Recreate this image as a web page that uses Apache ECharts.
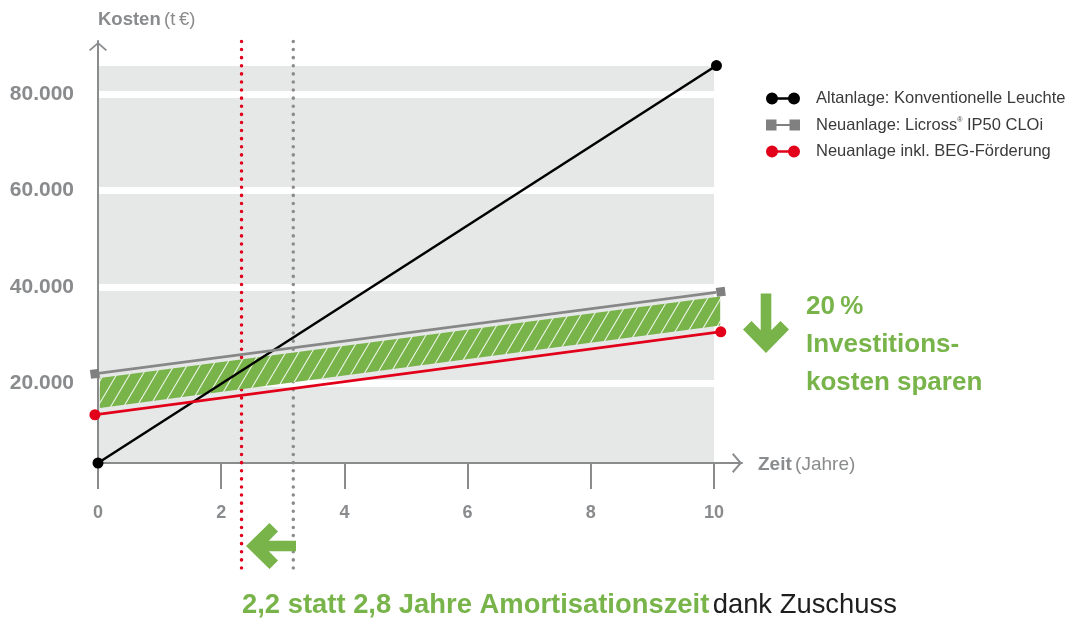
<!DOCTYPE html>
<html>
<head>
<meta charset="utf-8">
<script src="https://cdn.jsdelivr.net/npm/echarts@6/dist/echarts.min.js"></script>
<style>
html,body{margin:0;padding:0;background:#fff;}
#c{width:1071px;height:619px;}
</style>
</head>
<body>
<div id="c"></div>
<script>
// ---- data ----
const xTicks = [0, 2, 4, 6, 8, 10];
const yTicks = [20000, 40000, 60000, 80000];
const altX = [0, 10.04];
const altY = [3500, 85900];          // Altanlage: Konventionelle Leuchte
const neuX = [-0.05, 10.11];
const neuY = [22000, 39000];         // Neuanlage: Licross IP50 CLOi
const begX = [-0.05, 10.11];
const begY = [13500, 30700];         // Neuanlage inkl. BEG-Förderung
const bandX = [0.03, 10.1];
const bandTop = [21100, 38000];
const bandBottom = [14900, 32000];
const paybackBEG = 2.33;             // red dotted
const paybackNeu = 3.17;             // grey dotted
const seriesNames = ['Altanlage: Konventionelle Leuchte', 'Neuanlage: Licross® IP50 CLOi', 'Neuanlage inkl. BEG-Förderung'];

const FONT = "'Liberation Sans', Arial, sans-serif";
const GREY = '#8a8b8d';
const GREEN = '#78b44a';
const RED = '#e2001a';

function pts(xs, ys) { return xs.map((x, i) => [x, ys[i]]); }
function fmt(v) { return String(v).replace(/\B(?=(\d{3})+(?!\d))/g, '.'); }

// hatch pattern
const pc = document.createElement('canvas');
pc.width = 13; pc.height = 22;
const g = pc.getContext('2d');
g.fillStyle = GREEN; g.fillRect(0, 0, 13, 22);
g.strokeStyle = 'rgba(255,255,255,0.9)'; g.lineWidth = 1.1;
[-13, 0, 13].forEach(o => { g.beginPath(); g.moveTo(o, 22); g.lineTo(o + 13, 0); g.stroke(); });

const chev = 'path://M0 8.6 L10 0 L20 8.6 L18.6 10 L10 2.6 L1.4 10 Z';
const dumbCircle = 'path://M0 6 A6 6 0 1 1 12 6 A6 6 0 1 1 0 6 Z M22 6 A6 6 0 1 1 34 6 A6 6 0 1 1 22 6 Z M6 4.8 L28 4.8 L28 7.2 L6 7.2 Z';
const dumbSquare = 'path://M0 0.5 L10.5 0.5 L10.5 11.5 L0 11.5 Z M23.5 0.5 L34 0.5 L34 11.5 L23.5 11.5 Z M10 4.9 L24 4.9 L24 7.1 L10 7.1 Z';

const chart = echarts.init(document.getElementById('c'));
const option = {
  animation: false,
  backgroundColor: '#fff',
  grid: [
    { left: 98, right: 357, top: 66, bottom: 156, show: true, backgroundColor: '#e6e7e7', borderWidth: 0 },
    { left: 98, right: 329, top: 41, bottom: 156 },
    { left: 98, right: 357, top: 40, bottom: 51 }
  ],
  xAxis: [
    { gridIndex: 0, type: 'value', min: 0, max: 10, interval: 2,
      axisLine: { show: false },
      axisTick: { show: true, length: 26, lineStyle: { color: GREY, width: 2 } },
      axisLabel: { margin: 41, color: GREY, fontSize: 18, fontWeight: 'bold', fontFamily: FONT },
      splitLine: { show: false } },
    { gridIndex: 1, type: 'value', min: 0, max: 1,
      axisLine: { show: true, onZero: false, symbol: ['none', chev], symbolSize: [20, 10], symbolOffset: [0, -5],
        lineStyle: { color: GREY, width: 2 } },
      axisTick: { show: false }, axisLabel: { show: false }, splitLine: { show: false } },
    { gridIndex: 2, type: 'value', min: 0, max: 10, show: false }
  ],
  yAxis: [
    { gridIndex: 0, type: 'value', min: 3500, max: 85800,
      axisLine: { show: false },
      axisTick: { show: false, customValues: yTicks },
      axisLabel: { customValues: yTicks, margin: 24, color: GREY, fontSize: 21, fontWeight: 'bold', fontFamily: FONT, formatter: fmt },
      splitLine: { show: true, lineStyle: { color: '#ffffff', width: 7 } } },
    { gridIndex: 1, type: 'value', min: 0, max: 1,
      axisLine: { show: true, onZero: false, symbol: ['none', chev], symbolSize: [18, 11], symbolOffset: [0, -5.5],
        lineStyle: { color: GREY, width: 2 } },
      axisTick: { show: false }, axisLabel: { show: false }, splitLine: { show: false } },
    { gridIndex: 2, type: 'value', min: 0, max: 1, show: false }
  ],
  legend: {
    orient: 'vertical', left: 766, top: 90, padding: 0, itemWidth: 34, itemHeight: 12, itemGap: 9.5,
    textStyle: { fontSize: 16.5, color: '#3a3a3a', fontFamily: FONT, padding: [0, 0, 0, 11],
      rich: { sup: { fontSize: 7, color: '#3a3a3a', fontFamily: FONT, padding: [0, 0, 9, 0] } } },
    formatter: n => n.replace('®', '{sup|®}'),
    selectedMode: false,
    data: [
      { name: seriesNames[0], icon: dumbCircle },
      { name: seriesNames[1], icon: dumbSquare },
      { name: seriesNames[2], icon: dumbCircle }
    ]
  },
  series: [
    { type: 'line', name: 'BEG-Amortisation', xAxisIndex: 2, yAxisIndex: 2, z: 1, silent: true,
      data: [[paybackBEG, 0], [paybackBEG, 1]], symbol: 'none',
      lineStyle: { color: RED, width: 3.5, type: [0.1, 8], cap: 'round' } },
    { type: 'line', name: 'Neu-Amortisation', xAxisIndex: 2, yAxisIndex: 2, z: 1, silent: true,
      data: [[paybackNeu, 0], [paybackNeu, 1]], symbol: 'none',
      lineStyle: { color: '#8c8c8c', width: 3.5, type: [0.1, 8], cap: 'round' } },
    { type: 'custom', name: 'Ersparnis', xAxisIndex: 0, yAxisIndex: 0, z: 2, silent: true, clip: false,
      data: [[bandX[0], bandTop[0], bandBottom[0], bandX[1], bandTop[1], bandBottom[1]]],
      renderItem: function (params, api) {
        const a = api.coord([api.value(0), api.value(1)]);
        const b = api.coord([api.value(3), api.value(4)]);
        const c = api.coord([api.value(3), api.value(5)]);
        const d = api.coord([api.value(0), api.value(2)]);
        return { type: 'polygon', shape: { points: [a, b, c, d] },
          style: { fill: { image: pc, repeat: 'repeat' }, stroke: null } };
      } },
    { type: 'line', name: seriesNames[0], xAxisIndex: 0, yAxisIndex: 0, z: 3, clip: false, silent: true,
      data: pts(altX, altY), symbol: 'circle', symbolSize: 11,
      lineStyle: { color: '#000', width: 2.5 }, itemStyle: { color: '#000' } },
    { type: 'line', name: seriesNames[1], xAxisIndex: 0, yAxisIndex: 0, z: 3, clip: false, silent: true,
      data: pts(neuX, neuY), symbol: 'rect', symbolSize: 9, symbolRotate: 7.5,
      lineStyle: { color: '#878787', width: 2.8 }, itemStyle: { color: '#808080' } },
    { type: 'line', name: seriesNames[2], xAxisIndex: 0, yAxisIndex: 0, z: 3, clip: false, silent: true,
      data: pts(begX, begY), symbol: 'circle', symbolSize: 11,
      lineStyle: { color: RED, width: 2.8 }, itemStyle: { color: RED } }
  ],
  graphic: [
    { type: 'text', left: 98, top: 10, style: {
        text: '{b|Kosten} {n|(t\u2009€)}',
        rich: { b: { fontSize: 18.5, fontWeight: 'bold', fill: GREY, fontFamily: FONT },
                n: { fontSize: 18.5, fill: GREY, fontFamily: FONT } } } },
    { type: 'text', left: 758, top: 455, style: {
        text: '{b|Zeit} {n|(Jahre)}',
        rich: { b: { fontSize: 19, fontWeight: 'bold', fill: GREY, fontFamily: FONT },
                n: { fontSize: 19, fill: GREY, fontFamily: FONT } } } },
    { type: 'text', left: 806, top: 294, style: { text: '20\u2009%', fontSize: 26, fontWeight: 'bold', fill: GREEN, fontFamily: FONT } },
    { type: 'text', left: 806, top: 332, style: { text: 'Investitions-', fontSize: 26, fontWeight: 'bold', fill: GREEN, fontFamily: FONT } },
    { type: 'text', left: 806, top: 370, style: { text: 'kosten sparen', fontSize: 26, fontWeight: 'bold', fill: GREEN, fontFamily: FONT } },
    { type: 'text', left: 242, top: 592, style: {
        text: '{g|2,2 statt 2,8 Jahre Amortisationszeit} {d|dank Zuschuss}',
        rich: { g: { fontSize: 27.4, fontWeight: 'bold', fill: GREEN, fontFamily: FONT },
                d: { fontSize: 27.4, fill: '#1e1e1e', fontFamily: FONT } } } },
    // down arrow (tip at 766,353)
    { type: 'polygon', z: 10, shape: { points: [[766,353],[743,329.5],[751.5,321],[760.7,330.2],[760.7,293.5],[771.3,293.5],[771.3,330.2],[780.5,321],[789,329.5]] },
      style: { fill: GREEN } },
    // left arrow (tip at 246,546)
    { type: 'polygon', z: 10, shape: { points: [[246,546],[269.5,523],[278,531.5],[268.8,540.7],[296,540.7],[296,551.3],[268.8,551.3],[278,560.5],[269.5,569]] },
      style: { fill: GREEN } }
  ]
};
chart.setOption(option);
</script>
</body>
</html>
